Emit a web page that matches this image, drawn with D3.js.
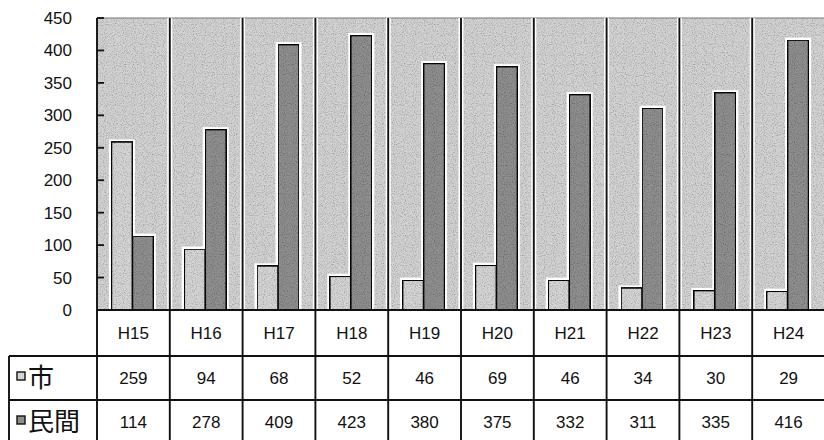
<!DOCTYPE html>
<html>
<head>
<meta charset="utf-8">
<script src="https://cdn.jsdelivr.net/npm/d3@7"></script>
<style>
  body { margin: 0; background: #fff; }
  text { font-family: "Liberation Sans", Arial, sans-serif; fill: #111; }
  .jp { font-family: "Noto Sans CJK JP", sans-serif; }
</style>
</head>
<body>
<script>
//////////////// Data ////////////////////
var years = ["H15", "H16", "H17", "H18", "H19", "H20", "H21", "H22", "H23", "H24"];
var seriesNames = ["市", "民間"];
var cityValues = [259, 94, 68, 52, 46, 69, 46, 34, 30, 29];
var privateValues = [114, 278, 409, 423, 380, 375, 332, 311, 335, 416];
var yTicks = [0, 50, 100, 150, 200, 250, 300, 350, 400, 450];

//////////////// Layout ////////////////////
var W = 824, H = 440;
var plot = {left: 97, right: 825, top: 18, bottom: 310};
var rowLines = [356, 400];   // table row borders
var rowCenters = [333, 378, 422];
var tableLeft = 9;

var svg = d3.select("body").append("svg")
  .attr("width", W)
  .attr("height", H);

// stipple texture like the scanned halftone
var defs = svg.append("defs");
var f = defs.append("filter").attr("id", "grain").attr("x", 0).attr("y", 0).attr("width", 1).attr("height", 1);
f.append("feTurbulence").attr("type", "fractalNoise").attr("baseFrequency", 0.9).attr("numOctaves", 1).attr("seed", 3).attr("result", "noise");
f.append("feColorMatrix").attr("in", "noise").attr("type", "matrix")
  .attr("values", "0 0 0 0 0  0 0 0 0 0  0 0 0 0 0  0 0 0 -1.4 0.75").attr("result", "dots");
f.append("feComposite").attr("in", "dots").attr("in2", "SourceGraphic").attr("operator", "in").attr("result", "d2");
f.append("feMerge").selectAll("feMergeNode").data(["SourceGraphic", "d2"]).enter()
  .append("feMergeNode").attr("in", function(d){ return d; });

//////////////// Scales ////////////////////
var x = d3.scaleBand().domain(years).range([plot.left, plot.right]);
var y = d3.scaleLinear().domain([0, 450]).range([plot.bottom, plot.top]);
var xs = d3.scaleBand().domain(seriesNames).range([-22, 20]);

var colors = {"市": "#d4d4d4", "民間": "#8e8e8e"};

// background
svg.append("rect")
  .attr("x", plot.left).attr("y", plot.top)
  .attr("width", plot.right - plot.left).attr("height", plot.bottom - plot.top)
  .attr("fill", "#d2d2d2")
  .attr("filter", "url(#grain)");

// top border
svg.append("line")
  .attr("x1", plot.left).attr("x2", plot.right)
  .attr("y1", plot.top).attr("y2", plot.top)
  .attr("stroke", "#777").attr("stroke-width", 1);

//////////////// Bars ////////////////////
var barData = [];
years.forEach(function(yr, i){
  barData.push({year: yr, s: "市", v: cityValues[i]});
  barData.push({year: yr, s: "民間", v: privateValues[i]});
});

function bx(d){ return x(d.year) + x.bandwidth() / 2 + xs(d.s); }

// white halo
svg.append("g").selectAll("rect")
  .data(barData).enter().append("rect")
  .attr("x", bx)
  .attr("y", function(d){ return y(d.v); })
  .attr("width", xs.bandwidth())
  .attr("height", function(d){ return y(0) - y(d.v); })
  .attr("fill", "none")
  .attr("stroke", "#fff")
  .attr("stroke-width", 5);

svg.append("g").selectAll("rect")
  .data(barData).enter().append("rect")
  .attr("x", bx)
  .attr("y", function(d){ return y(d.v); })
  .attr("width", xs.bandwidth())
  .attr("height", function(d){ return y(0) - y(d.v); })
  .attr("fill", function(d){ return colors[d.s]; })
  .attr("filter", "url(#grain)")
  .attr("stroke", "#111")
  .attr("stroke-width", 1.7);

//////////////// Column lines ////////////////////
var bounds = years.map(function(d){ return x(d); }).concat([plot.right]);
svg.append("g").selectAll("line")
  .data(bounds.slice(1, -1)).enter().append("line")
  .attr("x1", function(d){ return d; }).attr("x2", function(d){ return d; })
  .attr("y1", plot.top).attr("y2", plot.bottom)
  .attr("stroke", "#fff").attr("stroke-width", 5);
svg.append("g").selectAll("line")
  .data(bounds.slice(0, -1)).enter().append("line")
  .attr("x1", function(d){ return d; }).attr("x2", function(d){ return d; })
  .attr("y1", plot.top).attr("y2", H)
  .attr("stroke", "#111").attr("stroke-width", 1.9);

//////////////// Y axis ////////////////////
var yAxis = d3.axisLeft(y).tickValues(yTicks).tickSize(0).tickPadding(25);
var yg = svg.append("g")
  .attr("transform", "translate(" + plot.left + ",0)")
  .call(yAxis);
yg.select(".domain").remove();
yg.selectAll("text").style("font-size", "17px").attr("fill", "#111");

svg.append("g").selectAll("line")
  .data(yTicks.slice(1)).enter().append("line")
  .attr("x1", plot.left).attr("x2", plot.left + 7)
  .attr("y1", function(d){ return y(d); }).attr("y2", function(d){ return y(d); })
  .attr("stroke", "#111").attr("stroke-width", 1.8);

//////////////// Table ////////////////////
svg.append("line")
  .attr("x1", plot.left).attr("x2", W)
  .attr("y1", plot.bottom).attr("y2", plot.bottom)
  .attr("stroke", "#111").attr("stroke-width", 1.9);
svg.append("g").selectAll("line")
  .data(rowLines).enter().append("line")
  .attr("x1", tableLeft).attr("x2", W)
  .attr("y1", function(d){ return d; }).attr("y2", function(d){ return d; })
  .attr("stroke", "#111").attr("stroke-width", 1.9);
svg.append("line")
  .attr("x1", tableLeft).attr("x2", tableLeft)
  .attr("y1", rowLines[0]).attr("y2", H)
  .attr("stroke", "#111").attr("stroke-width", 1.9);

var rows = [years, cityValues, privateValues];
rows.forEach(function(row, r){
  svg.append("g").selectAll("text")
    .data(row).enter().append("text")
    .attr("x", function(d, i){ return x(years[i]) + x.bandwidth() / 2; })
    .attr("y", rowCenters[r])
    .attr("dy", "0.36em")
    .attr("text-anchor", "middle")
    .style("font-size", "17px")
    .text(function(d){ return d; });
});

// legend keys in row headers
seriesNames.forEach(function(s, i){
  var cy = rowCenters[i + 1];
  svg.append("rect")
    .attr("x", 17).attr("y", cy - 6)
    .attr("width", 8).attr("height", 8)
    .attr("fill", colors[s])
    .attr("stroke", "#111").attr("stroke-width", 1.4);
  svg.append("text")
    .attr("class", "jp")
    .attr("x", 28).attr("y", cy)
    .attr("dy", "0.36em")
    .style("font-size", "26px")
    .text(s);
});
</script>
</body>
</html>
